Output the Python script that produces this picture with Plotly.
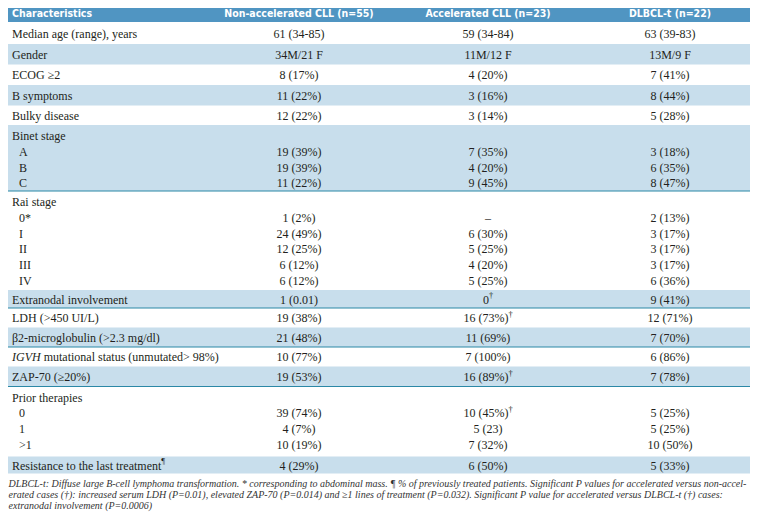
import plotly.graph_objects as go

# ---------------- data ----------------
columns = ["Characteristics", "Non-accelerated CLL (n=55)", "Accelerated CLL (n=23)", "DLBCL-t (n=22)"]

groups = [
    ("Median age (range), years", []),
    ("Gender", []),
    ("ECOG ≥2", []),
    ("B symptoms", []),
    ("Bulky disease", []),
    ("Binet stage", ["A", "B", "C"]),
    ("Rai stage", ["0*", "I", "II", "III", "IV"]),
    ("Extranodal involvement", []),
    ("LDH (>450 UI/L)", []),
    ("β2-microglobulin (>2.3 mg/dl)", []),
    ("<i>IGVH</i> mutational status (unmutated> 98%)", []),
    ("ZAP-70 (≥20%)", []),
    ("Prior therapies", ["0", "1", ">1"]),
    ("Resistance to the last treatment<sup>¶</sup>", []),
]

non_accelerated = ["61 (34-85)", "34M/21 F", "8 (17%)", "11 (22%)", "12 (22%)",
                   "", "19 (39%)", "19 (39%)", "11 (22%)",
                   "", "1 (2%)", "24 (49%)", "12 (25%)", "6 (12%)", "6 (12%)",
                   "1 (0.01)", "19 (38%)", "21 (48%)", "10 (77%)", "19 (53%)",
                   "", "39 (74%)", "4 (7%)", "10 (19%)", "4 (29%)"]

accelerated = ["59 (34-84)", "11M/12 F", "4 (20%)", "3 (16%)", "3 (14%)",
               "", "7 (35%)", "4 (20%)", "9 (45%)",
               "", "–", "6 (30%)", "5 (25%)", "4 (20%)", "5 (25%)",
               "0<sup>†</sup>", "16 (73%)<sup>†</sup>", "11 (69%)", "7 (100%)", "16 (89%)<sup>†</sup>",
               "", "10 (45%)<sup>†</sup>", "5 (23)", "7 (32%)", "6 (50%)"]

dlbcl_t = ["63 (39-83)", "13M/9 F", "7 (41%)", "8 (44%)", "5 (28%)",
           "", "3 (18%)", "6 (35%)", "8 (47%)",
           "", "2 (13%)", "3 (17%)", "3 (17%)", "3 (17%)", "6 (36%)",
           "9 (41%)", "12 (71%)", "7 (70%)", "6 (86%)", "7 (78%)",
           "", "5 (25%)", "5 (25%)", "10 (50%)", "5 (33%)"]

footnotes = [
    "DLBCL-t: Diffuse large B-cell lymphoma transformation. * corresponding to abdominal mass. ¶ % of previously treated patients. Significant P values for accelerated versus non-accel-",
    "erated cases (†): increased serum LDH (P=0.01), elevated ZAP-70 (P=0.014) and ≥1 lines of treatment (P=0.032). Significant P value for accelerated versus DLBCL-t (†) cases:",
    "extranodal involvement (P=0.0006)",
]

# ---------------- layout constants ----------------
PAGE_W, PAGE_H = 758, 522
BODY_MARGIN = 8          # browser default body margin around the plot div
FIG_W = PAGE_W - BODY_MARGIN
FIG_H = PAGE_H - BODY_MARGIN
X_LEFT, X_RIGHT = 7, 750
LABEL_X, SUB_X = 12, 19
COL_X = [299, 488, 670]
TOP = 3
HEADER_H = 19
HEADER_TEXT_Y = 14.5
GROUP_H = [22, 20.5, 20.5, 20.5, 19.5, 66, 99, 18, 19.5, 19.5, 19.5, 20, 70, 17]
LINE_PITCH = 15.8
FIRST_LINE = 12
TEXT_SHIFT = 1.5
FOOT_X = 8.5
FOOT_Y0, FOOT_PITCH = 484, 11

HEADER_BG = "#5095c2"
BAND_BG = "#c8deec"
RULE = "#2b88a6"
TXT = "#231f20"
SERIF = "Liberation Serif, Times New Roman, serif"
NARROW = "Liberation Sans Narrow, Arial Narrow, DejaVu Sans Condensed, sans-serif"

# ---------------- compute positions ----------------
lab_x, lab_y, lab_t = [], [], []
val_y = []
shapes = []
y = TOP + HEADER_H
group_bounds = []
for gi, (title, subs) in enumerate(groups):
    h = GROUP_H[gi]
    group_bounds.append((y, y + h))
    if subs:
        ys = [y + FIRST_LINE + LINE_PITCH * k for k in range(len(subs) + 1)]
        lab_x += [LABEL_X] + [SUB_X] * len(subs)
        lab_t += [title] + subs
    else:
        ys = [y + h / 2 + TEXT_SHIFT]
        lab_x += [LABEL_X]
        lab_t += [title]
    lab_y += ys
    val_y += ys
    y += h

shapes.append(dict(type="rect", xref="x", yref="y", x0=X_LEFT, x1=X_RIGHT,
                   y0=TOP, y1=TOP + HEADER_H, fillcolor=HEADER_BG, line_width=0, layer="below"))
for gi, (y0, y1) in enumerate(group_bounds):
    if gi % 2 == 1:
        shapes.append(dict(type="rect", xref="x", yref="y", x0=X_LEFT, x1=X_RIGHT,
                           y0=y0, y1=y1, fillcolor=BAND_BG, line_width=0, layer="below"))
for gi in (5, 7, 9, 11):
    yb = group_bounds[gi][1]
    shapes.append(dict(type="line", xref="x", yref="y", x0=X_LEFT, x1=X_RIGHT,
                       y0=yb, y1=yb, line=dict(color=RULE, width=1.2)))

fig = go.Figure()

hfont = dict(family=NARROW, size=10.5, color="white", weight="bold")
fig.add_trace(go.Scatter(x=[LABEL_X], y=[HEADER_TEXT_Y], text=[columns[0]], mode="text",
                         textposition="middle right", hoverinfo="skip", textfont=hfont,
                         cliponaxis=False))
fig.add_trace(go.Scatter(x=COL_X, y=[HEADER_TEXT_Y] * 3, text=columns[1:], mode="text",
                         textposition="middle center", hoverinfo="skip", textfont=hfont,
                         cliponaxis=False))

fig.add_trace(go.Scatter(x=lab_x, y=lab_y, text=lab_t, mode="text",
                         textposition="middle right", hoverinfo="skip", cliponaxis=False,
                         textfont=dict(family=SERIF, size=12, color=TXT)))
for cx, vals in zip(COL_X, [non_accelerated, accelerated, dlbcl_t]):
    pts = [(yy, v) for yy, v in zip(val_y, vals) if v]
    fig.add_trace(go.Scatter(x=[cx] * len(pts), y=[p[0] for p in pts], text=[p[1] for p in pts],
                             mode="text", textposition="middle center", hoverinfo="skip",
                             cliponaxis=False,
                             textfont=dict(family=SERIF, size=12, color=TXT)))

fig.add_trace(go.Scatter(x=[FOOT_X] * len(footnotes),
                         y=[FOOT_Y0 + FOOT_PITCH * k for k in range(len(footnotes))],
                         text=["<i>" + f + "</i>" for f in footnotes], mode="text",
                         textposition="middle right", hoverinfo="skip", cliponaxis=False,
                         textfont=dict(family=SERIF, size=10, color="#333333")))

fig.update_layout(
    width=FIG_W, height=FIG_H, margin=dict(l=0, r=0, t=0, b=0),
    paper_bgcolor="white", plot_bgcolor="white", showlegend=False,
    shapes=shapes,
    xaxis=dict(range=[BODY_MARGIN, BODY_MARGIN + FIG_W], visible=False, fixedrange=True),
    yaxis=dict(range=[BODY_MARGIN + FIG_H, BODY_MARGIN], visible=False, fixedrange=True),
)

fig.write_html("out.html")
